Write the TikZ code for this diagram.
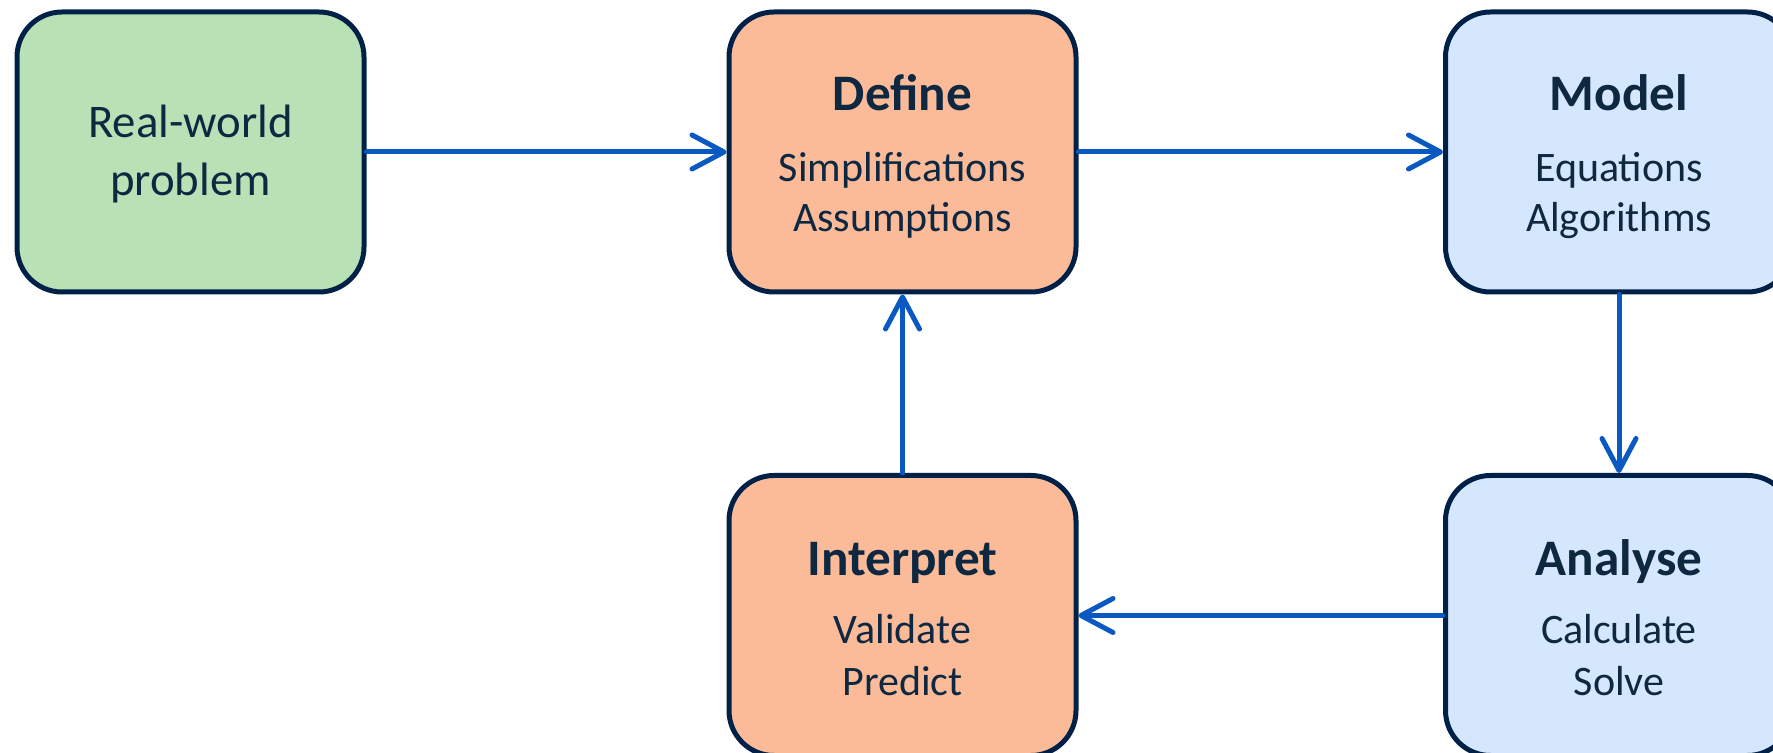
\documentclass[tikz,border=0pt]{standalone}
\usepackage{fontspec}
\setmainfont{Carlito}
\usetikzlibrary{arrows.meta}
\definecolor{boxline}{HTML}{002147}
\definecolor{txt}{HTML}{0E2841}
\definecolor{arrowblue}{HTML}{0A58C2}
\definecolor{greenfill}{HTML}{B8E2B6}
\definecolor{peachfill}{HTML}{FBBB98}
\definecolor{bluefill}{HTML}{D5E7FC}
\tikzset{
  box/.style={draw=boxline, line width=2.5pt, rounded corners=22.5pt,
    minimum width=173.5pt, minimum height=140pt, inner sep=0pt, outer sep=1.25pt},
  titletext/.style={anchor=base, text=txt, inner sep=0pt,
    font=\fontsize{25.6pt}{30pt}\selectfont\bfseries},
  subtext/.style={anchor=base, text=txt, inner sep=0pt,
    font=\fontsize{21pt}{25pt}\selectfont},
  rwtext/.style={anchor=base, text=txt, inner sep=0pt,
    font=\fontsize{23.4pt}{28pt}\selectfont},
  flow/.style={draw=arrowblue, line width=2.5pt, line cap=round, line join=round,
    -{Straight Barb[length=16pt, width=17pt, line cap=round, line join=round]}}
}
\begin{document}
\begin{tikzpicture}[x=0.5pt, y=-0.5pt]
\useasboundingbox (0,0) rectangle (1773,753);
% boxes
\node[box, fill=greenfill] (rw) at (190.5,152) {};
\node[box, fill=peachfill] (def) at (902.5,152) {};
\node[box, fill=bluefill] (mod) at (1619,152) {};
\node[box, fill=peachfill] (int) at (902.5,615.5) {};
\node[box, fill=bluefill] (ana) at (1619,615.5) {};
% texts
\node[rwtext] (rw1) at (190.5,138) {Real-world};
\node[rwtext] (rw2) at (190.5,196) {problem};
\node[titletext] (def0) at (902.5,111) {Define};
\node[subtext] (def1) at (902.5,181.5) {Simplifications};
\node[subtext] (def2) at (902.5,232) {Assumptions};
\node[titletext] (mod0) at (1619,111) {Model};
\node[subtext] (mod1) at (1619,181.5) {Equations};
\node[subtext] (mod2) at (1619,232) {Algorithms};
\node[titletext] (int0) at (902.5,575) {Interpret};
\node[subtext] (int1) at (902.5,643) {Validate};
\node[subtext] (int2) at (902.5,695) {Predict};
\node[titletext] (ana0) at (1619,575) {Analyse};
\node[subtext] (ana1) at (1619,643) {Calculate};
\node[subtext] (ana2) at (1619,695) {Solve};
% connectors
\draw[flow] (rw) -- (def);
\draw[flow] (def) -- (mod);
\draw[flow] (mod) -- (ana);
\draw[flow] (ana) -- (int);
\draw[flow] (int) -- (def);
\end{tikzpicture}
\end{document}
